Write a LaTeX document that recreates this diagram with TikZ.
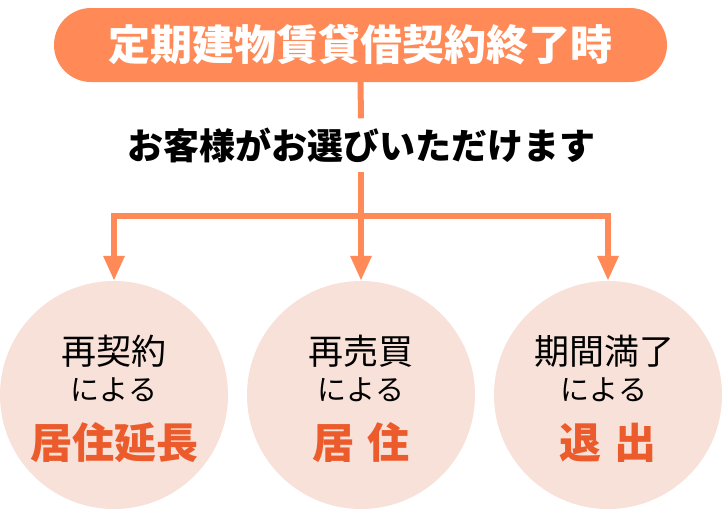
\documentclass[tikz,border=0pt]{standalone}
\usepackage{fontspec}
\newfontfamily\cjk{Noto Sans CJK JP}
\usetikzlibrary{arrows.meta}
\definecolor{orangeA}{HTML}{FF8A57}
\definecolor{pinkA}{HTML}{F8E1D9}
\definecolor{redA}{HTML}{EC5B2B}
\tikzset{
  conn/.style={draw=orangeA, line width=6pt},
  arr/.style={conn, -{Triangle[width=20pt,length=25pt]}},
  choice/.style={circle, fill=pinkA, minimum size=228pt, inner sep=0pt},
  lineA/.style={font=\cjk\fontsize{35}{40}\selectfont, inner sep=0pt, text=black},
  lineB/.style={font=\cjk\fontsize{29}{34}\selectfont, inner sep=0pt, text=black},
  lineC/.style={font=\cjk\bfseries\fontsize{42}{46}\selectfont, inner sep=0pt, text=redA},
}
\begin{document}
\begin{tikzpicture}[x=1pt,y=-1pt]
\useasboundingbox (0,0) rectangle (722,509);
\node[fill=orangeA, rounded corners=37pt, minimum width=613pt, minimum height=74pt, inner sep=0pt,
      font=\cjk\bfseries\fontsize{42}{46}\selectfont, text=white] (top) at (360.5,45) {定期建物賃貸借契約終了時};
\node[font=\cjk\bfseries\fontsize{36}{40}\selectfont, inner xsep=0pt, inner ysep=9pt] (sub) at (361,145) {お客様がお選びいただけます};
\node[choice] (c1) at (114,395) {};
\node[choice] (c2) at (361,395) {};
\node[choice] (c3) at (608,395) {};
\coordinate (j) at (361,216);
\draw[conn] (top.south) -- (sub.north);
\draw[conn] (sub.south) -- (j);
\draw[conn, line cap=rect] (c1.north |- j) -- (c3.north |- j);
\draw[arr] (c1.north |- j) -- (c1.north);
\draw[arr] (j) -- (c2.north);
\draw[arr] (c3.north |- j) -- (c3.north);
\node[lineA] (a1) at (114,351) {再契約};
\node[lineB] (b1) at (114,390) {による};
\node[lineC] (d1) at (114,443) {居住延長};
\node[lineA] (a2) at (361,351) {再売買};
\node[lineB] (b2) at (361,390) {による};
\node[lineC] (d2) at (361,443) {居\hspace{13pt}住};
\node[lineA] (a3) at (604,351) {期間満了};
\node[lineB] (b3) at (604,390) {による};
\node[lineC] (d3) at (608,443) {退\hspace{13pt}出};
\end{tikzpicture}
\end{document}
